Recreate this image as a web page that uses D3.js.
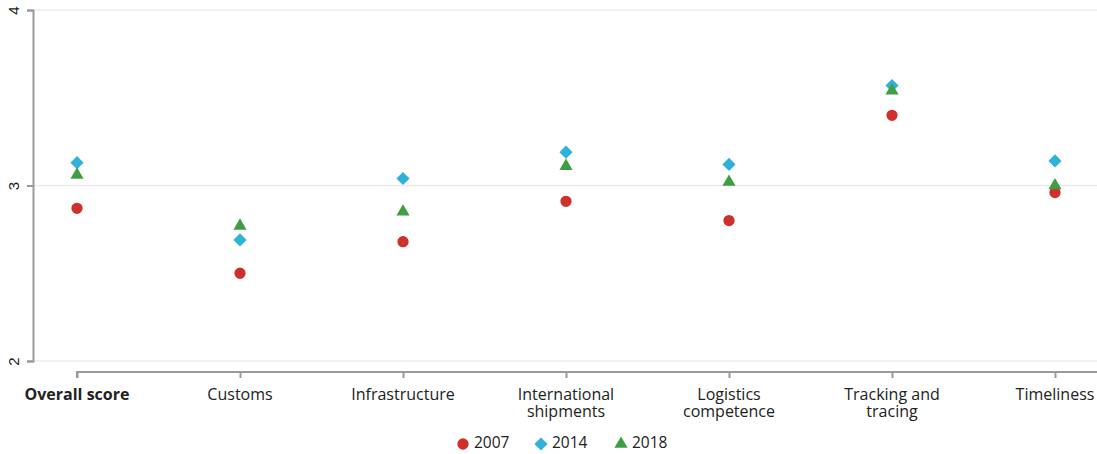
<!DOCTYPE html>
<html>
<head>
<meta charset="utf-8">
<script src="https://cdn.jsdelivr.net/npm/d3@7"></script>
<style>
  html, body { margin: 0; padding: 0; background: #fff; }
  svg { display: block; font-family: "Open Sans", "Noto Sans", sans-serif; }
</style>
</head>
<body>
<svg id="chart" width="1097" height="454"></svg>
<script>
// Logistics performance scores by dimension
const categories = [
  "Overall score", "Customs", "Infrastructure", "International shipments",
  "Logistics competence", "Tracking and tracing", "Timeliness"
];
const categoryLines = [
  ["Overall score"], ["Customs"], ["Infrastructure"], ["International", "shipments"],
  ["Logistics", "competence"], ["Tracking and", "tracing"], ["Timeliness"]
];
const years = ["2007", "2014", "2018"];
const values2007 = [2.87, 2.50, 2.68, 2.91, 2.80, 3.40, 2.96];
const values2014 = [3.13, 2.69, 3.04, 3.19, 3.12, 3.57, 3.14];
const values2018 = [3.06, 2.77, 2.85, 3.11, 3.02, 3.54, 3.00];
const yTicks = [2, 3, 4];

const colors = { "2007": "#d0302b", "2014": "#2fb1da", "2018": "#3f9e44" };
const shapes = { "2007": d3.symbolCircle, "2014": d3.symbolDiamond2, "2018": d3.symbolTriangle };
const sizes = { "2007": 100, "2014": 110, "2018": 75 };

const series = [
  { year: "2007", values: values2007 },
  { year: "2014", values: values2014 },
  { year: "2018", values: values2018 }
];

const svg = d3.select("#chart");
const plotLeft = 33, plotRight = 1097;

const x = d3.scalePoint().domain(categories).range([77, 1055]);
const y = d3.scaleLinear().domain([2, 4]).range([361, 10]);

// horizontal gridlines
svg.append("g")
  .selectAll("line")
  .data(yTicks)
  .join("line")
  .attr("x1", plotLeft).attr("x2", plotRight)
  .attr("y1", d => y(d)).attr("y2", d => y(d))
  .attr("stroke", "#ebebeb").attr("stroke-width", 1.5);

// y axis
const yAxis = svg.append("g")
  .attr("transform", `translate(${plotLeft},0)`)
  .call(d3.axisLeft(y).tickValues(yTicks).tickFormat(d3.format("d")).tickSize(6).tickSizeOuter(6));
yAxis.select(".domain").attr("stroke", "#9a9a9a").attr("stroke-width", 2);
yAxis.selectAll(".tick line").attr("stroke", "#9a9a9a").attr("stroke-width", 2);
yAxis.selectAll(".tick text")
  .attr("x", null).attr("dy", null)
  .attr("transform", "translate(-18,0) rotate(-90)")
  .attr("text-anchor", "middle")
  .attr("dominant-baseline", "middle")
  .attr("fill", "#222")
  .attr("font-size", 15);

// x axis
const xAxis = svg.append("g")
  .attr("transform", "translate(0,372)")
  .call(d3.axisBottom(x).tickSize(6).tickSizeOuter(0).tickFormat(""));
xAxis.select(".domain").attr("stroke", "#9a9a9a").attr("stroke-width", 2)
  .attr("d", `M${x(categories[0])},6V0H${plotRight}`);
xAxis.selectAll(".tick line").attr("stroke", "#9a9a9a").attr("stroke-width", 2);

// category labels
const labels = svg.append("g")
  .selectAll("text")
  .data(categories)
  .join("text")
  .attr("x", d => x(d))
  .attr("y", 400)
  .attr("text-anchor", "middle")
  .attr("font-size", 16)
  .attr("fill", "#222")
  .attr("font-weight", (d, i) => i === 0 ? "bold" : "normal");
labels.selectAll("tspan")
  .data((d, i) => categoryLines[i])
  .join("tspan")
  .attr("x", function() { return d3.select(this.parentNode).attr("x"); })
  .attr("dy", (d, i) => i === 0 ? 0 : 16.5)
  .text(d => d);

// points
series.forEach(s => {
  svg.append("g")
    .selectAll("path")
    .data(s.values)
    .join("path")
    .attr("transform", (d, i) => `translate(${x(categories[i])},${y(d)})`)
    .attr("d", d3.symbol().type(shapes[s.year]).size(sizes[s.year]))
    .attr("fill", colors[s.year]);
});

// legend
const legendItems = [
  { year: "2007", x: 463 },
  { year: "2014", x: 541 },
  { year: "2018", x: 621 }
];
const legend = svg.append("g").attr("transform", "translate(0,443)");
legend.selectAll("path")
  .data(legendItems)
  .join("path")
  .attr("transform", d => `translate(${d.x},1)`)
  .attr("d", d => d3.symbol().type(shapes[d.year]).size(sizes[d.year])())
  .attr("fill", d => colors[d.year]);
legend.selectAll("text")
  .data(legendItems)
  .join("text")
  .attr("x", d => d.x + 11)
  .attr("y", 0)
  .attr("dy", "0.35em")
  .attr("font-size", 15.5)
  .attr("fill", "#222")
  .text(d => d.year);
</script>
</body>
</html>
